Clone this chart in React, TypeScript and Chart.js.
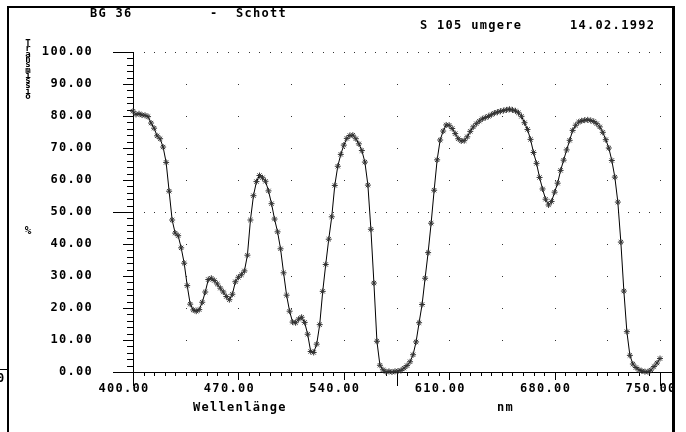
import { useEffect, useRef } from 'react';
import { Chart, registerables } from 'chart.js';

Chart.register(...registerables);

// Measured transmission of the BG 36 filter, one reading every 2 nm from 400 nm.
const START_NM = 400;
const STEP_NM = 2;
const TRANSMISSION = [
  81.5, 80.5, 80.7, 80.3, 80.2, 79.8, 77.8, 76.2, 73.8, 72.9,
  70.3, 65.5, 56.5, 47.5, 43.4, 42.6, 38.8, 34.0, 27.0, 21.2,
  19.4, 19.0, 19.5, 21.8, 25.0, 28.9, 29.3, 28.6, 27.5, 26.2,
  25.0, 23.6, 22.6, 24.3, 28.2, 29.6, 30.4, 31.6, 36.5, 47.5,
  55.1, 59.5, 61.4, 60.7, 59.6, 56.6, 52.6, 47.8, 43.8, 38.5,
  31.0, 24.0, 19.0, 15.6, 15.4, 16.5, 17.1, 15.5, 11.8, 6.4,
  6.1, 8.7, 14.8, 25.2, 33.6, 41.5, 48.5, 58.3, 64.3, 68.0,
  70.9, 73.0, 73.9, 74.0, 72.9, 71.3, 69.2, 65.6, 58.4, 44.6,
  27.8, 9.6, 2.1, 0.7, 0.1, 0.2, 0.0, 0.2, 0.3, 0.5,
  1.2, 2.0, 3.2, 5.4, 9.4, 15.4, 21.1, 29.3, 37.3, 46.5,
  56.8, 66.3, 72.5, 75.3, 77.2, 77.1, 76.1, 74.5, 72.9, 72.2,
  72.3, 73.5, 75.2, 76.6, 77.6, 78.4, 79.1, 79.5, 79.9, 80.4,
  80.9, 81.2, 81.5, 81.7, 81.9, 82.1, 81.9, 81.6, 81.0, 79.9,
  77.9, 75.8, 72.7, 68.6, 65.2, 60.8, 57.2, 54.0, 52.2, 53.3,
  56.2, 59.0, 63.0, 66.2, 69.4, 72.4, 75.5, 77.1, 78.1, 78.5,
  78.7, 78.8, 78.6, 78.3, 77.6, 76.6, 74.9, 72.6, 70.0, 66.1,
  60.9, 53.1, 40.6, 25.3, 12.6, 5.2, 2.5, 1.4, 0.7, 0.3,
  0.1, 0.1, 0.6, 1.7, 2.8, 4.2,
];
const WAVELENGTHS = TRANSMISSION.map((_, i) => START_NM + i * STEP_NM);

// Axis ranges and tick spacing
const X_MIN = 400;
const X_MAX = 750;
const X_MAJOR = 70;
const X_MINOR = 7;
const X_GRID = 35;
const Y_MIN = 0;
const Y_MAX = 100;
const Y_MAJOR = 10;
const Y_MINOR = 2;
const DENSE_ROWS = [50, 100];

// Texts
const FILTER_NAME = 'BG 36';
const MAKER = 'Schott';
const SAMPLE = 'S 105 umgere';
const DATE = '14.02.1992';
const Y_TITLE = 'Transmissio';
const Y_UNIT = '%';
const X_TITLE = 'Wellenlänge';
const X_UNIT = 'nm';

const W = 686;
const H = 432;
const FONT = '"DejaVu Sans Mono", monospace';
const SPACING = '1.3px';
const FRAME_RIGHT = 672;

const retroPlot = {
  id: 'retroPlot',
  beforeDraw(chart: any) {
    const { ctx } = chart;
    ctx.save();
    ctx.fillStyle = '#fff';
    ctx.fillRect(0, 0, W, H);
    ctx.restore();
    ctx.letterSpacing = SPACING;
  },
  beforeDatasetsDraw(chart: any) {
    const { ctx, scales } = chart;
    const xs = scales.x;
    const ys = scales.y;
    const px = (v: number) => Math.round(xs.getPixelForValue(v));
    const py = (v: number) => Math.round(ys.getPixelForValue(v));
    ctx.save();
    // dotted grid
    ctx.fillStyle = '#333';
    for (let v = Y_MIN + Y_MAJOR; v < Y_MAX; v += Y_MAJOR) {
      if (DENSE_ROWS.includes(v)) continue;
      for (let n = X_MIN + X_GRID; n <= X_MAX; n += X_GRID) ctx.fillRect(px(n), py(v), 1, 1);
    }
    for (const v of DENSE_ROWS) {
      for (let n = X_MIN + X_MINOR; n <= X_MAX; n += X_MINOR) ctx.fillRect(px(n), py(v), 1, 1);
    }
    // axis lines and tick marks
    ctx.fillStyle = '#000';
    const x0 = px(X_MIN);
    const y0 = py(Y_MIN);
    const yTop = py(Y_MAX);
    ctx.fillRect(x0 - 20, y0, FRAME_RIGHT - (x0 - 20), 1);
    ctx.fillRect(x0, yTop, 1, y0 - yTop + 8);
    for (let v = Y_MIN; v <= Y_MAX; v += Y_MINOR) {
      const len = v % 50 === 0 ? 20 : v % Y_MAJOR === 0 ? 10 : 6;
      ctx.fillRect(x0 - len, py(v), len, 1);
    }
    for (let n = X_MIN; n <= X_MAX; n += X_MINOR) {
      const k = n - X_MIN;
      const len = k % 175 === 0 ? 13 : k % X_MAJOR === 0 ? 7 : 3;
      ctx.fillRect(px(n), y0, 1, len + 1);
    }
    ctx.restore();
  },
  afterDraw(chart: any) {
    const { ctx } = chart;
    ctx.save();
    ctx.letterSpacing = SPACING;
    ctx.fillStyle = '#000';
    ctx.textBaseline = 'alphabetic';
    ctx.textAlign = 'left';
    ctx.font = `bold 12px ${FONT}`;
    ctx.fillText(FILTER_NAME, 90, 17);
    ctx.fillText('-', 210, 17);
    ctx.fillText(MAKER, 236, 17);
    ctx.fillText(SAMPLE, 420, 29);
    ctx.fillText(DATE, 570, 29);
    ctx.fillText(X_TITLE, 193, 411);
    ctx.fillText(X_UNIT, 497, 411);

    // stacked y-axis title
    ctx.letterSpacing = '0px';
    ctx.textAlign = 'center';
    ctx.font = `bold 9px ${FONT}`;
    Y_TITLE.split('').forEach((ch, i) => {
      ctx.fillText(ch, 28, 46 + i * 5.3);
    });
    ctx.font = `bold 11px ${FONT}`;
    ctx.fillText(Y_UNIT, 28, 234);

    // frame
    ctx.fillStyle = '#fff';
    ctx.fillRect(FRAME_RIGHT + 3, 0, W - FRAME_RIGHT - 3, H);
    ctx.fillStyle = '#000';
    ctx.fillRect(7, 6, FRAME_RIGHT - 7 + 3, 2);
    ctx.fillRect(7, 6, 2, H - 6);
    ctx.fillRect(FRAME_RIGHT, 6, 3, H - 6);
    ctx.fillRect(0, 369, 8, 1);
    ctx.beginPath();
    ctx.rect(0, 360, 6, 30);
    ctx.clip();
    ctx.textAlign = 'left';
    ctx.font = `bold 12px ${FONT}`;
    ctx.fillText('0', -3, 382);
    ctx.restore();
  },
};

export default function App() {
  const canvasRef = useRef<HTMLCanvasElement | null>(null);

  useEffect(() => {
    document.body.style.margin = '0';
    const canvas = canvasRef.current;
    if (!canvas) return;
    const tickFont = { family: FONT, size: 12, weight: 'bold' as const };
    const chart = new Chart(canvas, {
      type: 'line',
      data: {
        datasets: [
          {
            data: WAVELENGTHS.map((x, i) => ({ x, y: TRANSMISSION[i] })),
            borderColor: '#000',
            borderWidth: 1,
            pointStyle: 'star',
            pointRadius: 3,
            pointBorderColor: '#333',
            pointBorderWidth: 1,
            pointBackgroundColor: '#333',
            tension: 0,
            clip: false as any,
          },
        ],
      },
      options: {
        animation: false,
        responsive: false,
        devicePixelRatio: 1,
        layout: { padding: { left: 8, top: 52, right: 26, bottom: 30 } },
        plugins: {
          legend: { display: false },
          tooltip: { enabled: false },
          title: { display: false },
        },
        scales: {
          x: {
            type: 'linear',
            min: X_MIN,
            max: X_MAX,
            afterFit: (s: any) => {
              s.height = 30;
            },
            ticks: {
              stepSize: X_MAJOR,
              callback: (v: any) => Number(v).toFixed(2),
              font: tickFont,
              color: '#000',
              maxRotation: 0,
              autoSkip: false,
              padding: 2,
              labelOffset: -9,
            },
            grid: {
              display: true,
              drawOnChartArea: false,
              drawTicks: true,
              tickLength: 8,
              color: 'rgba(0,0,0,0)',
            },
            border: { display: false },
          },
          y: {
            type: 'linear',
            min: Y_MIN,
            max: Y_MAX,
            afterFit: (s: any) => {
              s.width = 125;
            },
            ticks: {
              stepSize: Y_MAJOR,
              callback: (v: any) => Number(v).toFixed(2),
              font: tickFont,
              color: '#000',
              padding: 20,
            },
            grid: {
              display: true,
              drawOnChartArea: false,
              drawTicks: true,
              tickLength: 20,
              color: 'rgba(0,0,0,0)',
            },
            border: { display: false },
          },
        },
      },
      plugins: [retroPlot],
    });
    return () => chart.destroy();
  }, []);

  return (
    <div style={{ position: 'fixed', left: 0, top: 0, width: W, height: H, background: '#fff' }}>
      <canvas ref={canvasRef} width={W} height={H} style={{ display: 'block' }} />
    </div>
  );
}
